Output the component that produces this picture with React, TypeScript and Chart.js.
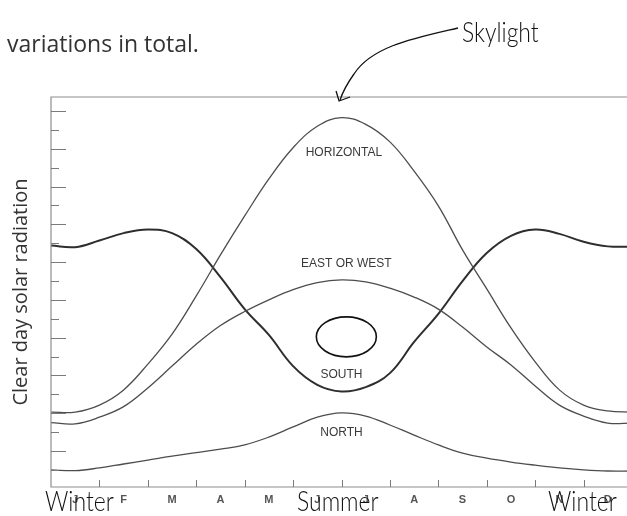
import React, { useEffect, useRef } from "react";
import { Chart, registerables } from "chart.js";

Chart.register(...registerables);

const monthLabels = ["J", "F", "M", "A", "M", "J", "J", "A", "S", "O", "N", "D"];
const monthPos = [0, 0.5, 1, 1.5, 2, 2.5, 3, 3.5, 4, 4.5, 5, 5.5, 6, 6.5, 7, 7.5, 8, 8.5, 9, 9.5, 10, 10.5, 11, 11.5, 12];
const horizontal = [19.2, 19.2, 21.0, 24.9, 31.5, 39.2, 49.0, 59.5, 69.5, 79.0, 87.0, 92.5, 94.7, 93.0, 88.5, 81.0, 72.1, 60.8, 50.8, 40.8, 32.1, 24.9, 21.0, 19.5, 19.2];
const eastWest = [16.5, 16.2, 17.9, 20.6, 25.4, 31.0, 36.6, 41.4, 45.0, 48.0, 50.6, 52.4, 53.1, 52.6, 51.0, 48.7, 45.6, 41.0, 35.9, 31.3, 25.9, 21.0, 18.2, 16.4, 16.4];
const south = [61.9, 61.5, 63.2, 65.1, 66.0, 65.1, 61.0, 53.8, 45.6, 39.0, 31.0, 26.2, 24.5, 25.6, 29.2, 37.2, 44.4, 52.8, 60.0, 64.4, 66.0, 64.9, 62.9, 61.7, 61.6];
const north = [4.4, 4.2, 4.9, 5.9, 6.9, 7.9, 8.8, 9.7, 10.8, 12.8, 15.4, 17.9, 19.0, 18.2, 15.9, 13.3, 10.8, 8.7, 7.4, 6.4, 5.6, 4.9, 4.4, 4.1, 4.1];

const curveLabels = ["HORIZONTAL", "EAST OR WEST", "SOUTH", "NORTH"];
const curveLabelX = [6.05, 6.1, 6.0, 6.0];
const curveLabelY = [85.6, 57.2, 28.7, 13.8];

const yTickStart = 4.36;
const yTickStep = 4.846;
const yTickCount = 20;

const pts = (arr: number[]) => arr.map((v, i) => ({ x: monthPos[i], y: v }));

const decorPlugin = {
  id: "decor",
  afterDraw(chart: any) {
    const { ctx, chartArea: ca, scales } = chart;
    const xs = scales.x;
    const ys = scales.y;
    ctx.save();

    ctx.strokeStyle = "#8e8e8e";
    ctx.lineWidth = 1.2;
    ctx.beginPath();
    ctx.moveTo(ca.right + 20, ca.top);
    ctx.lineTo(ca.left, ca.top);
    ctx.lineTo(ca.left, ca.bottom);
    ctx.lineTo(ca.right + 20, ca.bottom);
    ctx.stroke();

    ctx.strokeStyle = "#7a7a7a";
    ctx.lineWidth = 1;
    ys.ticks.forEach((t: any, i: number) => {
      const py = Math.round(ys.getPixelForValue(t.value)) + 0.5;
      const len = i % 2 === 0 ? 8 : 15;
      ctx.beginPath();
      ctx.moveTo(ca.left, py);
      ctx.lineTo(ca.left + len, py);
      ctx.stroke();
    });

    for (let i = 1; i < monthLabels.length; i++) {
      const px = Math.round(xs.getPixelForValue(i)) + 0.5;
      ctx.beginPath();
      ctx.moveTo(px, ca.bottom);
      ctx.lineTo(px, ca.bottom - 7);
      ctx.stroke();
    }

    ctx.fillStyle = "#3a3a3a";
    ctx.font = "12px 'Liberation Sans', Arial, sans-serif";
    ctx.textAlign = "center";
    ctx.textBaseline = "middle";
    curveLabels.forEach((t, i) => {
      ctx.fillText(t, xs.getPixelForValue(curveLabelX[i]), ys.getPixelForValue(curveLabelY[i]));
    });

    ctx.fillStyle = "#333333";
    ctx.font = "23px 'Open Sans', sans-serif";
    ctx.textAlign = "left";
    ctx.textBaseline = "alphabetic";
    ctx.fillText("variations in total.", 7, 52);

    const hand = (text: string, x: number, y: number, sx: number, size: number) => {
      ctx.save();
      ctx.translate(x, y);
      ctx.scale(sx, 1);
      ctx.fillStyle = "#111";
      ctx.font = `300 ${size}px Lato, 'Open Sans', sans-serif`;
      ctx.textAlign = "left";
      ctx.textBaseline = "alphabetic";
      ctx.fillText(text, 0, 0);
      ctx.restore();
    };
    hand("Winter", 45, 511, 0.82, 28);
    hand("Summer", 297, 511, 0.82, 28);
    hand("Winter", 548, 511, 0.82, 28);
    hand("Skylight", 462, 42, 0.85, 27);

    const tipX = xs.getPixelForValue(5.97);
    const tipY = ca.top + 3;
    ctx.strokeStyle = "#111";
    ctx.lineWidth = 1.3;
    ctx.beginPath();
    ctx.moveTo(458, 28);
    ctx.bezierCurveTo(415, 38, 372, 46, 354, 74);
    ctx.quadraticCurveTo(344, 88, tipX, tipY);
    ctx.stroke();
    ctx.beginPath();
    ctx.moveTo(tipX - 4, tipY - 9);
    ctx.lineTo(tipX - 1, tipY + 1);
    ctx.lineTo(tipX + 10, tipY - 3);
    ctx.stroke();

    ctx.lineWidth = 1.6;
    ctx.beginPath();
    ctx.ellipse(xs.getPixelForValue(6.1), ys.getPixelForValue(38.5), 30, 20, 0, 0, Math.PI * 2);
    ctx.stroke();

    ctx.restore();
  },
};

export default function App() {
  const canvasRef = useRef<HTMLCanvasElement | null>(null);

  useEffect(() => {
    if (!canvasRef.current) return;
    const thin = { borderColor: "#4d4d4d", borderWidth: 1.3 };
    const chart = new Chart(canvasRef.current, {
      type: "line",
      data: {
        datasets: [
          { label: "Horizontal", data: pts(horizontal), ...thin },
          { label: "East or West", data: pts(eastWest), ...thin },
          { label: "South", data: pts(south), borderColor: "#2e2e2e", borderWidth: 2 },
          { label: "North", data: pts(north), ...thin },
        ],
      },
      options: {
        animation: false,
        responsive: false,
        devicePixelRatio: 1,
        layout: { padding: { top: 97, left: 0, right: 18, bottom: 0 } },
        elements: {
          point: { radius: 0, hoverRadius: 0 },
          line: { tension: 0.4, fill: false },
        },
        plugins: { legend: { display: false }, tooltip: { enabled: false } },
        scales: {
          x: { type: "linear", min: 0, max: 12, display: false },
          xm: {
            type: "category",
            labels: monthLabels,
            position: "bottom",
            offset: true,
            grid: { display: false, drawTicks: false },
            border: { display: false },
            ticks: {
              color: "#555",
              padding: 6,
              font: { family: "'Liberation Sans', Arial, sans-serif", size: 11, weight: "bold" },
              maxRotation: 0,
              autoSkip: false,
            },
            afterFit: (s: any) => {
              s.height = 29;
            },
          },
          y: {
            type: "linear",
            min: 0,
            max: 100,
            grid: { display: false, drawTicks: false },
            border: { display: false },
            ticks: { display: false },
            title: {
              display: true,
              text: "Clear day solar radiation",
              color: "#333",
              font: { family: "'Open Sans', sans-serif", size: 20 },
              padding: { top: 9, bottom: 0 },
            },
            afterBuildTicks: (s: any) => {
              const t = [];
              for (let k = 0; k < yTickCount; k++) t.push({ value: yTickStart + yTickStep * k });
              s.ticks = t;
            },
            afterFit: (s: any) => {
              s.width = 51;
            },
          },
        },
      },
      plugins: [decorPlugin],
    } as any);
    return () => chart.destroy();
  }, []);

  return (
    <div
      style={{
        position: "fixed",
        left: 0,
        top: 0,
        width: 627,
        height: 516,
        overflow: "hidden",
        background: "#fff",
      }}
    >
      <canvas ref={canvasRef} width={650} height={516} style={{ width: 650, height: 516, display: "block" }} />
    </div>
  );
}
